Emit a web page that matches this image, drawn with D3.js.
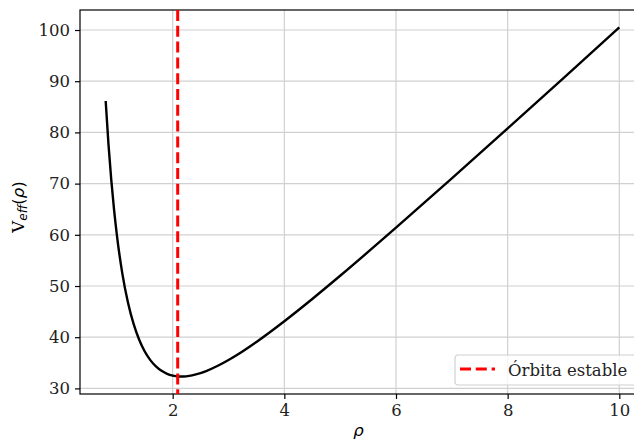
<!DOCTYPE html>
<html>
<head>
<meta charset="utf-8">
<script src="https://cdn.jsdelivr.net/npm/d3@7"></script>
<style>
  body { margin: 0; background: #fff; }
  svg { display: block; font-family: "DejaVu Serif", serif; }
</style>
</head>
<body>
<svg id="chart" width="634" height="442"></svg>
<script>
// rho values
const rho = [0.8, 0.85, 0.9, 0.95, 1.0, 1.1, 1.2, 1.3, 1.4, 1.5, 1.6, 1.7, 1.8, 1.9,
    2.0, 2.1, 2.2, 2.3, 2.4, 2.6, 2.8, 3.0, 3.25, 3.5, 4.0, 4.5, 5, 6, 7, 8, 9, 10];
// effective potential at each rho
const vEff = [86.13, 77.70, 70.73, 64.90, 60.00, 52.32, 46.72, 42.59, 39.51, 37.22, 35.53, 34.30, 33.43, 32.85,
    32.50, 32.34, 32.33, 32.45, 32.68, 33.40, 34.38, 35.56, 37.23, 39.08, 43.13, 47.47, 52.00, 61.39, 71.02, 80.78, 90.62, 100.50];
// stable orbit position
const rhoStable = 2.09;

const xTicks = [2, 4, 6, 8, 10];
const yTicks = [30, 40, 50, 60, 70, 80, 90, 100];

/*------------------- layout --------------------*/
const plot = { left: 80, top: 10, right: 645, bottom: 394 };
const fs = "16.5px";

const x = d3.scaleLinear().domain([0.34, 10.46]).range([plot.left, plot.right]);
const y = d3.scaleLinear().domain([28.91, 103.91]).range([plot.bottom, plot.top]);

const svg = d3.select("#chart");

// grid
svg.append("g").selectAll("line")
    .data(xTicks).enter().append("line")
    .attr("x1", d => x(d)).attr("x2", d => x(d))
    .attr("y1", plot.top).attr("y2", plot.bottom)
    .attr("stroke", "#d0d0d0").attr("stroke-width", 1.2);
svg.append("g").selectAll("line")
    .data(yTicks).enter().append("line")
    .attr("x1", plot.left).attr("x2", plot.right)
    .attr("y1", d => y(d)).attr("y2", d => y(d))
    .attr("stroke", "#d0d0d0").attr("stroke-width", 1.2);

// axes
const xAxis = d3.axisBottom(x).tickValues(xTicks).tickSize(5).tickPadding(5).tickFormat(d3.format("d"));
const yAxis = d3.axisLeft(y).tickValues(yTicks).tickSize(5).tickPadding(5).tickFormat(d3.format("d"));

const gx = svg.append("g").attr("transform", `translate(0,${plot.bottom})`).call(xAxis);
const gy = svg.append("g").attr("transform", `translate(${plot.left},0)`).call(yAxis);
[gx, gy].forEach(g => {
    g.select(".domain").remove();
    g.selectAll(".tick line").attr("stroke", "#000").attr("stroke-width", 1.2);
    g.selectAll(".tick text").attr("fill", "#222").style("font-family", "DejaVu Serif").style("font-size", fs);
});

// spines
svg.append("rect")
    .attr("x", plot.left).attr("y", plot.top)
    .attr("width", plot.right - plot.left).attr("height", plot.bottom - plot.top)
    .attr("fill", "none").attr("stroke", "#000").attr("stroke-width", 1.2);

// curve
const line = d3.line()
    .x((d, i) => x(rho[i]))
    .y(d => y(d))
    .curve(d3.curveMonotoneX);

svg.append("path")
    .datum(vEff)
    .attr("d", line)
    .attr("fill", "none")
    .attr("stroke", "#000")
    .attr("stroke-width", 2.4);

// stable orbit line
svg.append("line")
    .attr("x1", x(rhoStable)).attr("x2", x(rhoStable))
    .attr("y1", plot.top).attr("y2", plot.bottom)
    .attr("stroke", "red").attr("stroke-width", 3)
    .attr("stroke-dasharray", "11,4.8");

// labels
svg.append("text")
    .attr("x", (plot.left + plot.right) / 2 - 4).attr("y", 436)
    .attr("text-anchor", "middle")
    .style("font-family", "DejaVu Sans").style("font-style", "italic").style("font-size", fs)
    .text("ρ");

const yl = svg.append("text")
    .attr("transform", "translate(24,207) rotate(-90)")
    .attr("text-anchor", "middle")
    .style("font-size", fs);
yl.append("tspan").text("V");
yl.append("tspan").attr("dy", 3).style("font-family", "DejaVu Sans").style("font-style", "italic").style("font-size", "12px").text("eff");
yl.append("tspan").attr("dy", -3).style("font-family", "DejaVu Sans").text("(");
yl.append("tspan").style("font-family", "DejaVu Sans").style("font-style", "italic").text("ρ");
yl.append("tspan").style("font-family", "DejaVu Sans").text(")");

// legend
const lg = svg.append("g").attr("transform", "translate(455,355)");
lg.append("rect")
    .attr("width", 200).attr("height", 30).attr("rx", 3)
    .attr("fill", "#fff").attr("fill-opacity", 0.8)
    .attr("stroke", "#d0d0d0").attr("stroke-width", 1.2);
lg.append("line")
    .attr("x1", 5).attr("x2", 40).attr("y1", 14).attr("y2", 14)
    .attr("stroke", "red").attr("stroke-width", 3)
    .attr("stroke-dasharray", "11,4.8");
lg.append("text")
    .attr("x", 53).attr("y", 20.5)
    .style("font-size", fs).attr("fill", "#222")
    .text("Órbita estable");
</script>
</body>
</html>
